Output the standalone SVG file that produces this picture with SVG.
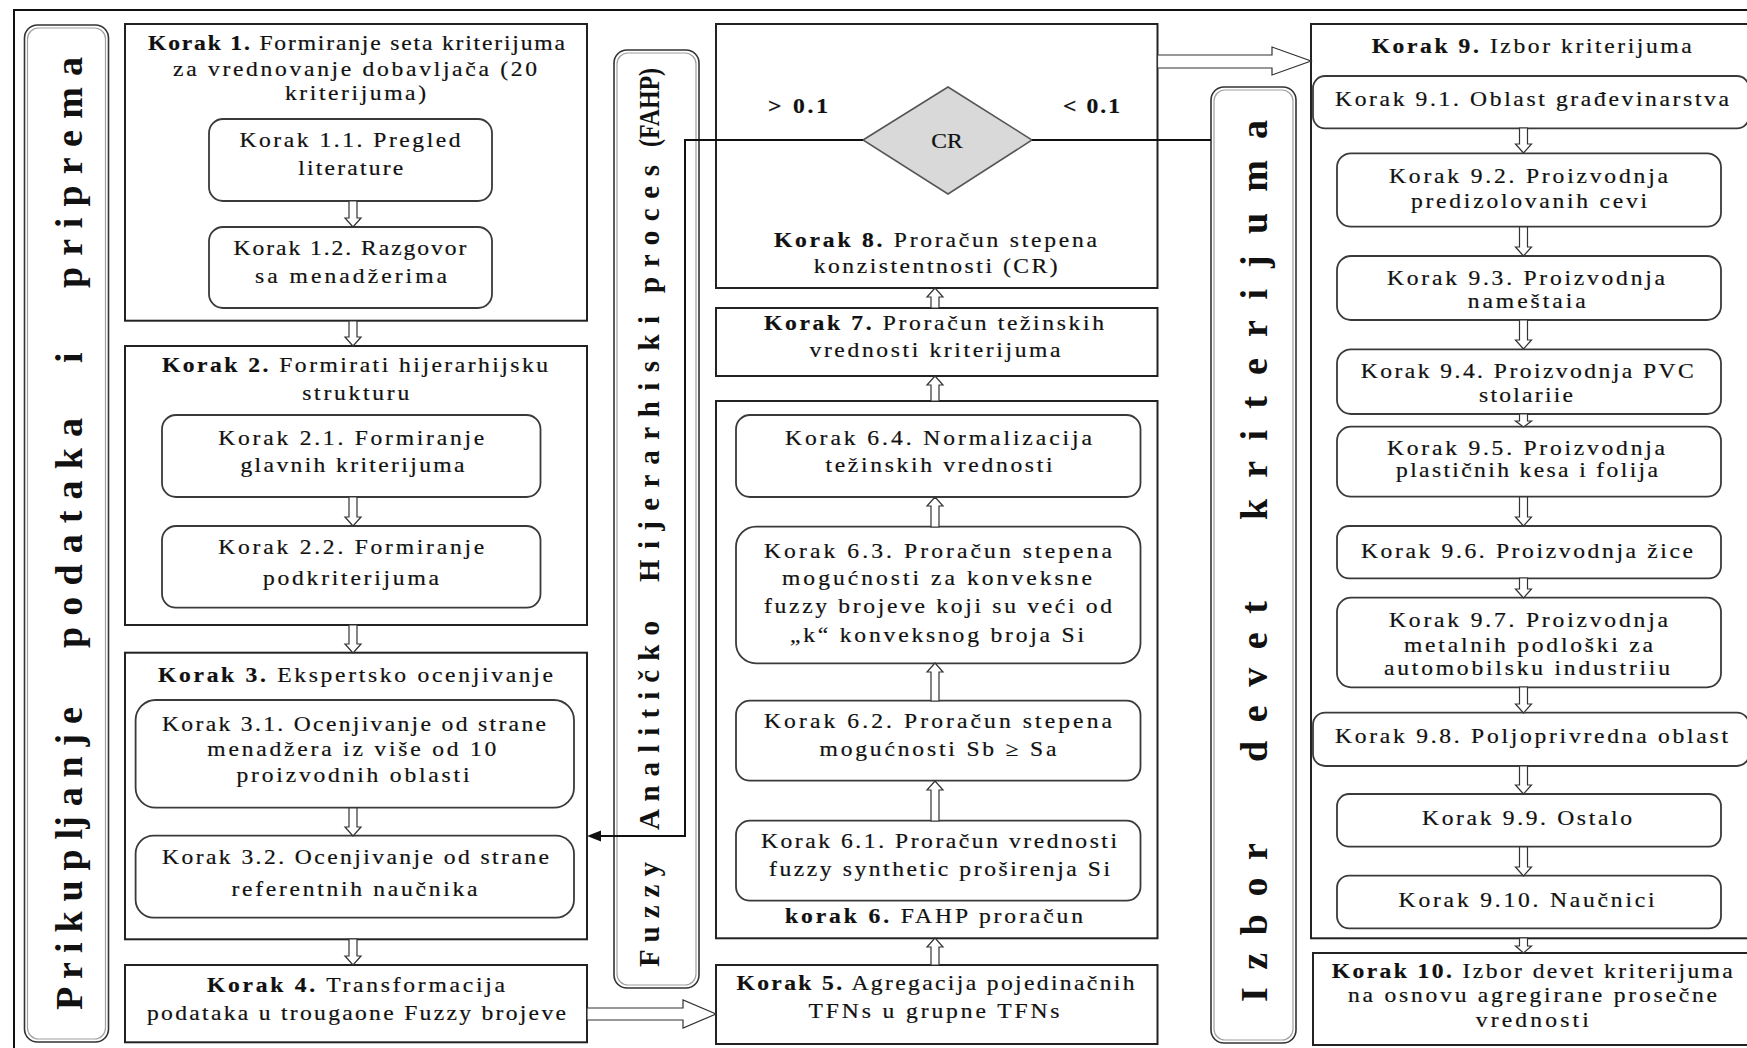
<svg xmlns="http://www.w3.org/2000/svg" width="1747" height="1048" viewBox="0 0 1747 1048">
  <style>
    .t { font-family: "Liberation Serif", "Times New Roman", serif; font-size: 20.5px; fill: #111; stroke: #111; stroke-width: 0.2px; text-anchor: middle;
         transform-box: fill-box; transform-origin: center; transform: scaleX(1.15); }
    .b { font-weight: bold; }
    .v { font-family: "Liberation Serif", "Times New Roman", serif; font-weight: bold; fill: #111; }
    .box { fill: #fff; stroke: #222; stroke-width: 2; }
    .rb { fill: #fff; stroke: #3a3a3a; stroke-width: 1.8; }
    .panel { fill: #fff; stroke: #333; stroke-width: 1.6; }
    .panel-in { fill: none; stroke: #a0a0a0; stroke-width: 1.2; }
    .ha { fill: #fff; stroke: #333; stroke-width: 1.2; }
    .ln { fill: none; stroke: #111; stroke-width: 2; }
    .dia { fill: #d9d9d9; stroke: #555; stroke-width: 1.5; }
  </style>

  <rect x="0" y="0" width="1747" height="1048" fill="#fff"/>
  <!-- outer frame -->
  <path d="M14,1048 V10 H1747" fill="none" stroke="#111" stroke-width="2"/>

  <!-- left phase panel -->
  <g id="panel-prikupljanje">
    <rect class="panel" x="24.5" y="25" width="84" height="1017" rx="13"/>
    <rect class="panel-in" x="27.5" y="28" width="78" height="1011" rx="11"/>
    <text class="v" font-size="38" textLength="303" lengthAdjust="spacing" transform="translate(82,1010) rotate(-90)">P r i k u p lj a n j e</text>
    <text class="v" font-size="38" textLength="230" lengthAdjust="spacing" transform="translate(82,648) rotate(-90)">p o d a t a k a</text>
    <text class="v" font-size="38" transform="translate(82,363) rotate(-90)">i</text>
    <text class="v" font-size="38" textLength="231" lengthAdjust="spacing" transform="translate(82,288) rotate(-90)">p r i p r e m a</text>
  </g>

  <!-- step 1 -->
  <g id="korak1">
    <rect class="box" x="125" y="24" width="462" height="296.7"/>
    <text class="t" x="356.5" y="50" textLength="362.6" lengthAdjust="spacing"><tspan class="b">Korak 1.</tspan> Formiranje seta kriterijuma</text>
    <text class="t" x="355" y="76" textLength="316.5" lengthAdjust="spacing">za vrednovanje dobavljača (20</text>
    <text class="t" x="355.5" y="100" textLength="122.6" lengthAdjust="spacing">kriterijuma)</text>
  </g>
  <g id="korak1-1">
    <rect class="rb" x="209" y="119" width="283" height="82" rx="14"/>
    <text class="t" x="350" y="147" textLength="192.2" lengthAdjust="spacing">Korak 1.1. Pregled</text>
    <text class="t" x="350.7" y="175" textLength="91.3" lengthAdjust="spacing">literature</text>
  </g>
  <g id="korak1-2">
    <rect class="rb" x="209" y="227" width="283" height="81" rx="14"/>
    <text class="t" x="350" y="255" textLength="202.6" lengthAdjust="spacing">Korak 1.2. Razgovor</text>
    <text class="t" x="351" y="283" textLength="167" lengthAdjust="spacing">sa menadžerima</text>
  </g>

  <!-- step 2 -->
  <g id="korak2">
    <rect class="box" x="125" y="346" width="462" height="279"/>
    <text class="t" x="355" y="371.7" textLength="335.7" lengthAdjust="spacing"><tspan class="b">Korak 2.</tspan> Formirati hijerarhijsku</text>
    <text class="t" x="355.7" y="400" textLength="93" lengthAdjust="spacing">strukturu</text>
  </g>
  <g id="korak2-1">
    <rect class="rb" x="162" y="415" width="378.5" height="82" rx="14"/>
    <text class="t" x="351.3" y="445" textLength="231.3" lengthAdjust="spacing">Korak 2.1. Formiranje</text>
    <text class="t" x="352.5" y="471.7" textLength="194.8" lengthAdjust="spacing">glavnih kriterijuma</text>
  </g>
  <g id="korak2-2">
    <rect class="rb" x="162" y="526" width="378.5" height="81.7" rx="14"/>
    <text class="t" x="351.3" y="554" textLength="231.3" lengthAdjust="spacing">Korak 2.2. Formiranje</text>
    <text class="t" x="351" y="585" textLength="153" lengthAdjust="spacing">podkriterijuma</text>
  </g>

  <!-- step 3 -->
  <g id="korak3">
    <rect class="box" x="125" y="652.7" width="462" height="286.6"/>
    <text class="t" x="355.5" y="681.7" textLength="343.5" lengthAdjust="spacing"><tspan class="b">Korak 3.</tspan> Ekspertsko ocenjivanje</text>
  </g>
  <g id="korak3-1">
    <rect class="rb" x="135.6" y="700" width="438.4" height="107.7" rx="20"/>
    <text class="t" x="354" y="731.5" textLength="333.9" lengthAdjust="spacing">Korak 3.1. Ocenjivanje od strane</text>
    <text class="t" x="351.8" y="756" textLength="251.3" lengthAdjust="spacing">menadžera iz više od 10</text>
    <text class="t" x="353" y="782" textLength="202.6" lengthAdjust="spacing">proizvodnih oblasti</text>
  </g>
  <g id="korak3-2">
    <rect class="rb" x="135.6" y="835.7" width="438.4" height="82" rx="18"/>
    <text class="t" x="355.5" y="864" textLength="336.5" lengthAdjust="spacing">Korak 3.2.  Ocenjivanje od strane</text>
    <text class="t" x="354.5" y="896" textLength="213.9" lengthAdjust="spacing">referentnih naučnika</text>
  </g>

  <!-- step 4 -->
  <g id="korak4">
    <rect class="box" x="125" y="965" width="462" height="77.3"/>
    <text class="t" x="356" y="991.7" textLength="259.1" lengthAdjust="spacing"><tspan class="b">Korak 4.</tspan> Transformacija</text>
    <text class="t" x="356.5" y="1020" textLength="364.3" lengthAdjust="spacing">podataka u trougaone Fuzzy brojeve</text>
  </g>

  <!-- FAHP phase panel -->
  <g id="panel-fahp">
    <rect class="panel" x="614" y="50" width="85" height="938" rx="13"/>
    <rect class="panel-in" x="617" y="53" width="79" height="932" rx="11"/>
    <text class="v" font-size="29" textLength="105" lengthAdjust="spacing" transform="translate(659,967) rotate(-90)">F u z z y</text>
    <text class="v" font-size="29" textLength="209" lengthAdjust="spacing" transform="translate(659,830) rotate(-90)">A n a l i t i č k o</text>
    <text class="v" font-size="29" textLength="266" lengthAdjust="spacing" transform="translate(659,582) rotate(-90)">H i j e r a r h i s k i</text>
    <text class="v" font-size="29" textLength="128" lengthAdjust="spacing" transform="translate(659,293) rotate(-90)">p r o c e s</text>
    <text class="v" font-size="29" textLength="79" lengthAdjust="spacingAndGlyphs" transform="translate(659,147) rotate(-90)">(FAHP)</text>
  </g>

  <!-- step 8 with consistency check -->
  <g id="korak8">
    <rect class="box" x="716" y="24" width="441.5" height="264"/>
    <polygon class="dia" points="863,140 948,87 1032,140 948,194"/>
    <text class="t" x="947" y="148">CR</text>
    <text class="t b" x="798" y="113" textLength="52.2" lengthAdjust="spacing">&gt; 0.1</text>
    <text class="t b" x="1091.5" y="113" textLength="49.6" lengthAdjust="spacing">&lt; 0.1</text>
    <text class="t" x="935.5" y="246.7" textLength="280.9" lengthAdjust="spacing"><tspan class="b">Korak 8.</tspan> Proračun stepena</text>
    <text class="t" x="935.7" y="273" textLength="212.2" lengthAdjust="spacing">konzistentnosti (CR)</text>
  </g>

  <!-- step 7 -->
  <g id="korak7">
    <rect class="box" x="716" y="308" width="441.5" height="68"/>
    <text class="t" x="934" y="330" textLength="295.7" lengthAdjust="spacing"><tspan class="b">Korak 7.</tspan> Proračun težinskih</text>
    <text class="t" x="935" y="356.7" textLength="218.3" lengthAdjust="spacing">vrednosti kriterijuma</text>
  </g>

  <!-- step 6 -->
  <g id="korak6">
    <rect class="box" x="716" y="401" width="441.5" height="537.3"/>
    <text class="t" x="934" y="923.3" textLength="259.1" lengthAdjust="spacing"><tspan class="b">korak 6.</tspan> FAHP proračun</text>
  </g>
  <g id="korak6-4">
    <rect class="rb" x="736" y="415" width="404.5" height="82" rx="14"/>
    <text class="t" x="938.5" y="445" textLength="267" lengthAdjust="spacing">Korak 6.4.  Normalizacija</text>
    <text class="t" x="939" y="471.7" textLength="197.4" lengthAdjust="spacing">težinskih vrednosti</text>
  </g>
  <g id="korak6-3">
    <rect class="rb" x="736" y="526.7" width="404.5" height="136.6" rx="20"/>
    <text class="t" x="938" y="557.7" textLength="302.6" lengthAdjust="spacing">Korak 6.3.  Proračun stepena</text>
    <text class="t" x="937" y="585" textLength="269.6" lengthAdjust="spacing">mogućnosti za konveksne</text>
    <text class="t" x="938" y="613.3" textLength="302.6" lengthAdjust="spacing">fuzzy brojeve koji su veći od</text>
    <text class="t" x="937" y="641.7" textLength="255.7" lengthAdjust="spacing">„k“ konveksnog broja Si</text>
  </g>
  <g id="korak6-2">
    <rect class="rb" x="736" y="700.7" width="404.5" height="80" rx="14"/>
    <text class="t" x="938" y="728.3" textLength="302.6" lengthAdjust="spacing">Korak 6.2.  Proračun stepena</text>
    <text class="t" x="938" y="756" textLength="206.1" lengthAdjust="spacing">mogućnosti Sb ≥ Sa</text>
  </g>
  <g id="korak6-1">
    <rect class="rb" x="736" y="820.7" width="404.5" height="80" rx="14"/>
    <text class="t" x="939" y="848.3" textLength="309.6" lengthAdjust="spacing">Korak 6.1.  Proračun vrednosti</text>
    <text class="t" x="939.5" y="876" textLength="296.5" lengthAdjust="spacing">fuzzy synthetic proširenja Si</text>
  </g>

  <!-- step 5 -->
  <g id="korak5">
    <rect class="box" x="716" y="965" width="441.5" height="79"/>
    <text class="t" x="935.5" y="990" textLength="346.1" lengthAdjust="spacing"><tspan class="b">Korak 5.</tspan> Agregacija pojedinačnih</text>
    <text class="t" x="934" y="1018.3" textLength="218.3" lengthAdjust="spacing">TFNs u grupne TFNs</text>
  </g>

  <!-- selection phase panel -->
  <g id="panel-izbor">
    <rect class="panel" x="1211" y="87" width="85" height="956" rx="13"/>
    <rect class="panel-in" x="1214" y="90" width="79" height="950" rx="11"/>
    <text class="v" font-size="38" textLength="159" lengthAdjust="spacing" transform="translate(1267,1002) rotate(-90)">I z b o r</text>
    <text class="v" font-size="38" textLength="161" lengthAdjust="spacing" transform="translate(1267,762) rotate(-90)">d e v e t</text>
    <text class="v" font-size="38" textLength="400" lengthAdjust="spacing" transform="translate(1267,520) rotate(-90)">k r i t e r i j u m a</text>
  </g>

  <!-- step 9 -->
  <g id="korak9">
    <rect class="box" x="1311" y="24" width="460" height="914.3"/>
    <text class="t" x="1531.7" y="53.3" textLength="278.3" lengthAdjust="spacing"><tspan class="b">Korak 9.</tspan> Izbor kriterijuma</text>
  </g>
  <g id="korak9-1">
    <rect class="rb" x="1313" y="76" width="436" height="52.3" rx="12"/>
    <text class="t" x="1532" y="106" textLength="342.6" lengthAdjust="spacing">Korak 9.1. Oblast građevinarstva</text>
  </g>
  <g id="korak9-2">
    <rect class="rb" x="1337" y="153.3" width="384" height="73.4" rx="14"/>
    <text class="t" x="1528.5" y="183.3" textLength="242.6" lengthAdjust="spacing">Korak 9.2. Proizvodnja</text>
    <text class="t" x="1529" y="208.3" textLength="205.2" lengthAdjust="spacing">predizolovanih cevi</text>
  </g>
  <g id="korak9-3">
    <rect class="rb" x="1337" y="256" width="384" height="64" rx="14"/>
    <text class="t" x="1526" y="285" textLength="241.7" lengthAdjust="spacing">Korak 9.3. Proizvodnja</text>
    <text class="t" x="1526.7" y="308.3" textLength="102.6" lengthAdjust="spacing">nameštaia</text>
  </g>
  <g id="korak9-4">
    <rect class="rb" x="1337" y="349.3" width="384" height="64.7" rx="14"/>
    <text class="t" x="1527.3" y="378.3" textLength="289.6" lengthAdjust="spacing">Korak 9.4. Proizvodnja PVC</text>
    <text class="t" x="1526" y="401.7" textLength="81.7" lengthAdjust="spacing">stolariie</text>
  </g>
  <g id="korak9-5">
    <rect class="rb" x="1337" y="426.7" width="384" height="70" rx="14"/>
    <text class="t" x="1526" y="455" textLength="241.7" lengthAdjust="spacing">Korak 9.5. Proizvodnja</text>
    <text class="t" x="1527" y="476.7" textLength="227.8" lengthAdjust="spacing">plastičnih kesa i folija</text>
  </g>
  <g id="korak9-6">
    <rect class="rb" x="1337" y="526" width="384" height="52.3" rx="12"/>
    <text class="t" x="1527" y="558.3" textLength="288.7" lengthAdjust="spacing">Korak 9.6. Proizvodnja žice</text>
  </g>
  <g id="korak9-7">
    <rect class="rb" x="1337" y="597.7" width="384" height="89.6" rx="14"/>
    <text class="t" x="1528.5" y="626.7" textLength="242.6" lengthAdjust="spacing">Korak 9.7. Proizvodnja</text>
    <text class="t" x="1528.5" y="651.7" textLength="216.5" lengthAdjust="spacing">metalnih podloški za</text>
    <text class="t" x="1527" y="675" textLength="248.7" lengthAdjust="spacing">automobilsku industriiu</text>
  </g>
  <g id="korak9-8">
    <rect class="rb" x="1313" y="712.7" width="436" height="53.3" rx="12"/>
    <text class="t" x="1531.5" y="743.3" textLength="341.7" lengthAdjust="spacing">Korak 9.8. Poljoprivredna oblast</text>
  </g>
  <g id="korak9-9">
    <rect class="rb" x="1337" y="794" width="384" height="52.7" rx="12"/>
    <text class="t" x="1527" y="825" textLength="182.6" lengthAdjust="spacing">Korak 9.9. Ostalo</text>
  </g>
  <g id="korak9-10">
    <rect class="rb" x="1337" y="875.7" width="384" height="52.6" rx="12"/>
    <text class="t" x="1526.6" y="906.7" textLength="222.6" lengthAdjust="spacing">Korak 9.10. Naučnici</text>
  </g>

  <!-- step 10 -->
  <g id="korak10">
    <rect class="box" x="1313" y="953" width="460" height="92"/>
    <text class="t" x="1532.3" y="978.3" textLength="348.7" lengthAdjust="spacing"><tspan class="b">Korak 10.</tspan> Izbor devet kriterijuma</text>
    <text class="t" x="1532.5" y="1001.7" textLength="320.9" lengthAdjust="spacing">na osnovu agregirane prosečne</text>
    <text class="t" x="1532.3" y="1026.7" textLength="98.3" lengthAdjust="spacing">vrednosti</text>
  </g>

  <!-- connectors -->
  <g id="connectors">
    <!-- hollow arrows, left column (down) -->
    <polygon class="ha" points="349,201 357,201 357,218 361,218 353,227 345,218 349,218"/>
    <polygon class="ha" points="349,321 357,321 357,337 361,337 353,346 345,337 349,337"/>
    <polygon class="ha" points="349,497 357,497 357,517 361,517 353,526 345,517 349,517"/>
    <polygon class="ha" points="349,625 357,625 357,644 361,644 353,653 345,644 349,644"/>
    <polygon class="ha" points="349,808 357,808 357,827 361,827 353,836 345,827 349,827"/>
    <polygon class="ha" points="349,939 357,939 357,956 361,956 353,965 345,956 349,956"/>

    <!-- hollow arrows, middle column (up) -->
    <polygon class="ha" points="931,308 939,308 939,297 943,297 935,288 927,297 931,297"/>
    <polygon class="ha" points="931,401 939,401 939,385 943,385 935,376 927,385 931,385"/>
    <polygon class="ha" points="931,527 939,527 939,506 943,506 935,497 927,506 931,506"/>
    <polygon class="ha" points="931,701 939,701 939,672 943,672 935,663 927,672 931,672"/>
    <polygon class="ha" points="931,821 939,821 939,790 943,790 935,781 927,790 931,790"/>
    <polygon class="ha" points="931,965 939,965 939,947 943,947 935,938 927,947 931,947"/>

    <!-- hollow arrows, right column (down) -->
    <polygon class="ha" points="1519.5,128 1527.5,128 1527.5,144 1531.5,144 1523.5,153 1515.5,144 1519.5,144"/>
    <polygon class="ha" points="1519.5,227 1527.5,227 1527.5,247 1531.5,247 1523.5,256 1515.5,247 1519.5,247"/>
    <polygon class="ha" points="1519.5,320 1527.5,320 1527.5,340 1531.5,340 1523.5,349 1515.5,340 1519.5,340"/>
    <polygon class="ha" points="1519.5,414 1527.5,414 1527.5,421 1531.5,421 1523.5,427 1515.5,421 1519.5,421"/>
    <polygon class="ha" points="1519.5,497 1527.5,497 1527.5,517 1531.5,517 1523.5,526 1515.5,517 1519.5,517"/>
    <polygon class="ha" points="1519.5,578 1527.5,578 1527.5,589 1531.5,589 1523.5,598 1515.5,589 1519.5,589"/>
    <polygon class="ha" points="1519.5,687 1527.5,687 1527.5,704 1531.5,704 1523.5,713 1515.5,704 1519.5,704"/>
    <polygon class="ha" points="1519.5,766 1527.5,766 1527.5,785 1531.5,785 1523.5,794 1515.5,785 1519.5,785"/>
    <polygon class="ha" points="1519.5,847 1527.5,847 1527.5,867 1531.5,867 1523.5,876 1515.5,867 1519.5,867"/>
    <polygon class="ha" points="1519.5,938 1527.5,938 1527.5,946 1531.5,946 1523.5,953 1515.5,946 1519.5,946"/>

    <!-- large hollow arrows between columns -->
    <polygon class="ha" points="1157.5,55 1272,55 1272,47 1311,61 1272,75 1272,68 1157.5,68"/>
    <polygon class="ha" points="587,1008 683,1008 683,1000 716,1014 683,1028 683,1020 587,1020"/>

    <!-- CR decision branches -->
    <path class="ln" d="M863,140 H685 V836 H598"/>
    <polygon points="587,836 601,830.5 601,841.5" fill="#111"/>
    <path class="ln" d="M1032,140 H1211"/>
  </g>
</svg>
